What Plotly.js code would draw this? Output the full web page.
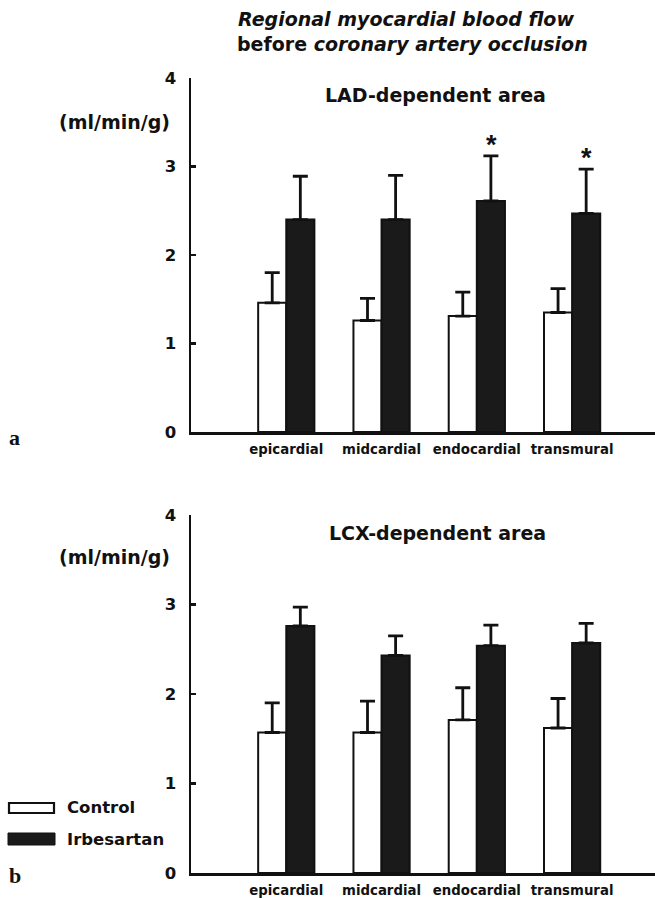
<!DOCTYPE html>
<html><head><meta charset="utf-8">
<script src="https://cdn.plot.ly/plotly-3.0.1.min.js"></script>
<style>html,body{margin:0;padding:0;background:#fff}#chart{width:655px;height:898px}</style>
</head><body><div id="chart"></div>
<script>
const categories = ["epicardial", "midcardial", "endocardial", "transmural"];
const ladControl = [1.46, 1.26, 1.31, 1.35];
const ladControlSD = [0.34, 0.25, 0.27, 0.27];
const ladIrbesartan = [2.40, 2.40, 2.61, 2.47];
const ladIrbesartanSD = [0.49, 0.50, 0.51, 0.50];
const lcxControl = [1.57, 1.57, 1.71, 1.62];
const lcxControlSD = [0.33, 0.35, 0.36, 0.33];
const lcxIrbesartan = [2.76, 2.43, 2.54, 2.57];
const lcxIrbesartanSD = [0.21, 0.22, 0.23, 0.22];
const ladSignificant = [false, false, true, true];
const yTicks = [0, 1, 2, 3, 4];

const F = "DejaVu Sans, Liberation Sans, Arial, sans-serif";
const SERIF = "Liberation Serif, Times New Roman, serif";
const zeros = categories.map(() => 0);

function barTrace(vals, sd, fill, xa, ya, name) {
  return {
    type: "bar", x: categories, y: vals, name: name, xaxis: xa, yaxis: ya,
    marker: {color: fill, line: {color: "#111", width: 2}},
    error_y: {type: "data", symmetric: false, array: sd, arrayminus: zeros,
      color: "#111", thickness: 2.8, width: 7.5},
    showlegend: false, hoverinfo: "skip"
  };
}

const data = [
  barTrace(ladControl, ladControlSD, "#fff", "x", "y", "Control"),
  barTrace(ladIrbesartan, ladIrbesartanSD, "#1a1a1a", "x", "y", "Irbesartan"),
  barTrace(lcxControl, lcxControlSD, "#fff", "x2", "y2", "Control"),
  barTrace(lcxIrbesartan, lcxIrbesartanSD, "#1a1a1a", "x2", "y2", "Irbesartan")
];

function paperText(px, py, text, size, anchor, family) {
  return {xref: "paper", yref: "paper", x: px / 655, y: 1 - py / 898, xanchor: anchor || "center",
    yanchor: "middle", text: text, showarrow: false,
    font: {family: family || F, size: size, color: "#111"}};
}

const annotations = [];
ladSignificant.forEach((s, i) => {
  if (s) annotations.push({xref: "x", yref: "y", x: i + 0.15, y: ladIrbesartan[i] + ladIrbesartanSD[i],
    text: "<b>*</b>", showarrow: false, yanchor: "bottom", yshift: -6,
    font: {family: "Liberation Sans, Arial, sans-serif", size: 27, color: "#111"}});
});
annotations.push(
  paperText(406, 19, "<b><i>Regional myocardial blood flow</i></b>", 19),
  paperText(412, 44, "<b>before <i>coronary artery occlusion</i></b>", 19),
  paperText(436, 95, "<b>LAD-dependent area</b>", 19),
  paperText(437, 533, "<b>LCX-dependent area</b>", 19),
  paperText(57, 122, "<b>(ml/min/g)</b>", 19, "left"),
  paperText(57, 557, "<b>(ml/min/g)</b>", 19, "left"),
  paperText(7, 437, "<b>a</b>", 22, "left", SERIF),
  paperText(7, 875, "<b>b</b>", 22, "left", SERIF),
  paperText(65, 807, "<b>Control</b>", 16.5, "left"),
  paperText(65, 839, "<b>Irbesartan</b>", 16.5, "left")
);

const shapes = [
  {type: "rect", xref: "paper", yref: "paper", x0: 9 / 655, x1: 54 / 655, y0: 1 - 813 / 898, y1: 1 - 803 / 898,
   fillcolor: "#fff", line: {color: "#111", width: 2.2}},
  {type: "rect", xref: "paper", yref: "paper", x0: 8 / 655, x1: 55 / 655, y0: 1 - 845 / 898, y1: 1 - 833 / 898,
   fillcolor: "#1a1a1a", line: {color: "#111", width: 1}}
];

function xax(anchor) {
  return {anchor: anchor, domain: [191 / 655, 1], range: [-1, 3.87], showline: true, linecolor: "#111", linewidth: 2.5,
    ticks: "", showgrid: false, zeroline: false, fixedrange: true, automargin: false,
    tickfont: {family: F, size: 13.3, color: "#111"}, tickangle: 0, ticklabelstandoff: 4,
    tickvals: categories, ticktext: categories.map(c => "<b>" + c + "</b>")};
}
function yax(anchor, domain) {
  return {anchor: anchor, domain: domain, range: [0, 4], tickvals: yTicks, ticktext: yTicks.map(v => "<b>" + v + "</b>"),
    showline: true, linecolor: "#111", linewidth: 2.5, ticks: "inside", ticklen: 5, tickwidth: 2.5, tickcolor: "#111",
    showgrid: false, zeroline: false, fixedrange: true, automargin: false, ticklabelstandoff: 9,
    tickfont: {family: F, size: 16.5, color: "#111"}};
}

const layout = {
  width: 655, height: 898, margin: {l: 0, r: 0, t: 0, b: 0},
  paper_bgcolor: "#fff", plot_bgcolor: "#fff",
  barmode: "group", bargap: 0.41, bargroupgap: 0,
  showlegend: false,
  xaxis: xax("y"), yaxis: yax("x", [1 - 432 / 898, 1 - 78 / 898]),
  xaxis2: xax("y2"), yaxis2: yax("x2", [1 - 873 / 898, 1 - 515 / 898]),
  annotations: annotations, shapes: shapes
};

Plotly.newPlot("chart", data, layout, {staticPlot: true, displayModeBar: false});
</script></body></html>
